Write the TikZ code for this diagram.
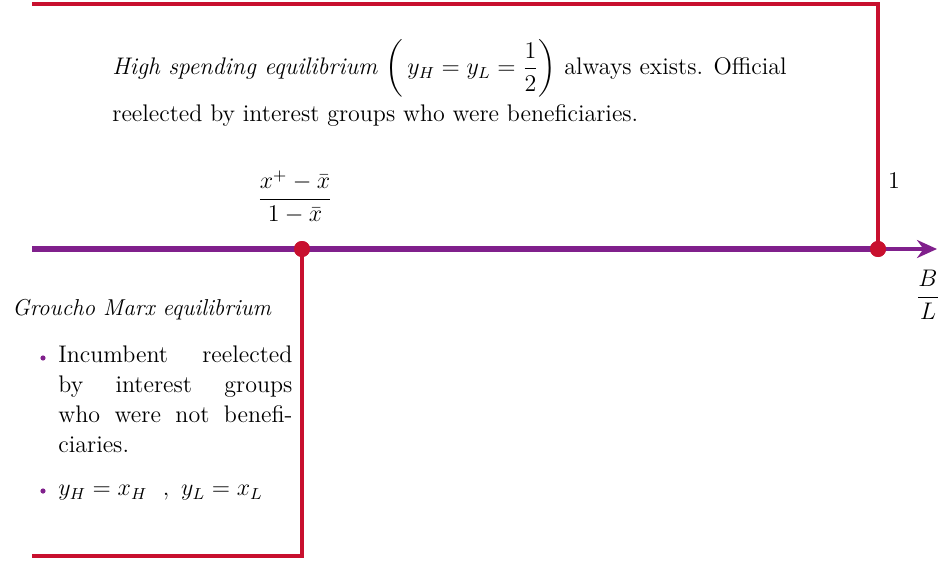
\documentclass[tikz,border=0pt]{standalone}
\usepackage{amsmath,amssymb}
\usepackage{tikz}
\usetikzlibrary{arrows.meta,positioning,calc}
\usepackage{xcolor}
\definecolor{regionred}{RGB}{200,16,46}
\definecolor{axispurple}{RGB}{128,32,140}
\tikzset{
    bound/.style={line width=1.6pt, regionred},
    axis/.style={line width=3pt, axispurple},
    tipline/.style={line width=1.6pt, axispurple, -{Stealth[length=10pt,width=9pt]}},
    eqdot/.style={circle, fill=regionred, inner sep=0pt, minimum size=8pt},
    lbl/.style={font=\fontsize{12}{15}\selectfont, inner sep=0pt},
    bul/.style={circle, fill=axispurple, inner sep=0pt, minimum size=2.6pt},
}

\begin{document}
\begin{tikzpicture}[x=0.5pt, y=-0.5pt]
    \useasboundingbox (0,0) rectangle (941,561);
    % Points on the axis
    \coordinate (start) at (32,249);
    \node[eqdot] (xlow) at (302,249) {};
    \node[eqdot] (one) at (878,249) {};
    \coordinate (tip) at (937,249);
    % Region boundaries
    \coordinate (tl) at (32,4);
    \coordinate (bl) at (32,556);
    \draw[bound] (tl) -| (one.center);
    \draw[bound] (xlow.center) |- (bl);
    % Axis
    \draw[axis] (start) -- (one.center);
    \draw[tipline] (one.center) -- (tip);
    \node[eqdot] at (xlow) {};
    \node[eqdot] at (one) {};
    % Axis labels
    \node[lbl] (onelbl) at (894,181) {$1$};
    \node[lbl] (frac) at (295,197) {$\dfrac{x^{+}-\bar{x}}{1-\bar{x}}$};
    \node[lbl] (bl) at (928,295) {$\dfrac{B}{L}$};
    % Upper region
    \node[lbl, anchor=west, align=left] (high) at (112,83)
        {\textit{High spending equilibrium} $\left(\,y_H=y_L=\dfrac{1}{2}\right)$ always exists. Official\\[2.5pt]
         reelected by interest groups who were beneficiaries.};
    % Lower region
    \node[lbl, font=\fontsize{11.5}{14}\selectfont, anchor=west] (groucho) at (12,310) {\textit{Groucho Marx equilibrium}};
    \node[lbl, anchor=north west, text width=117pt, align=left] (incumb) at (58,345)
        {Incumbent\hfill reelected\\
         by\hfill interest\hfill groups\\
         who\hfill were\hfill not\hfill benefi-\\
         ciaries.};
    \node[bul] (b1) at (43,358) {};
    \node[lbl, anchor=west] (eqs) at (58,493) {$y_H=x_H\ \ ,\ y_L=x_L$};
    \node[bul] (b2) at (43,491) {};
\end{tikzpicture}
\end{document}
